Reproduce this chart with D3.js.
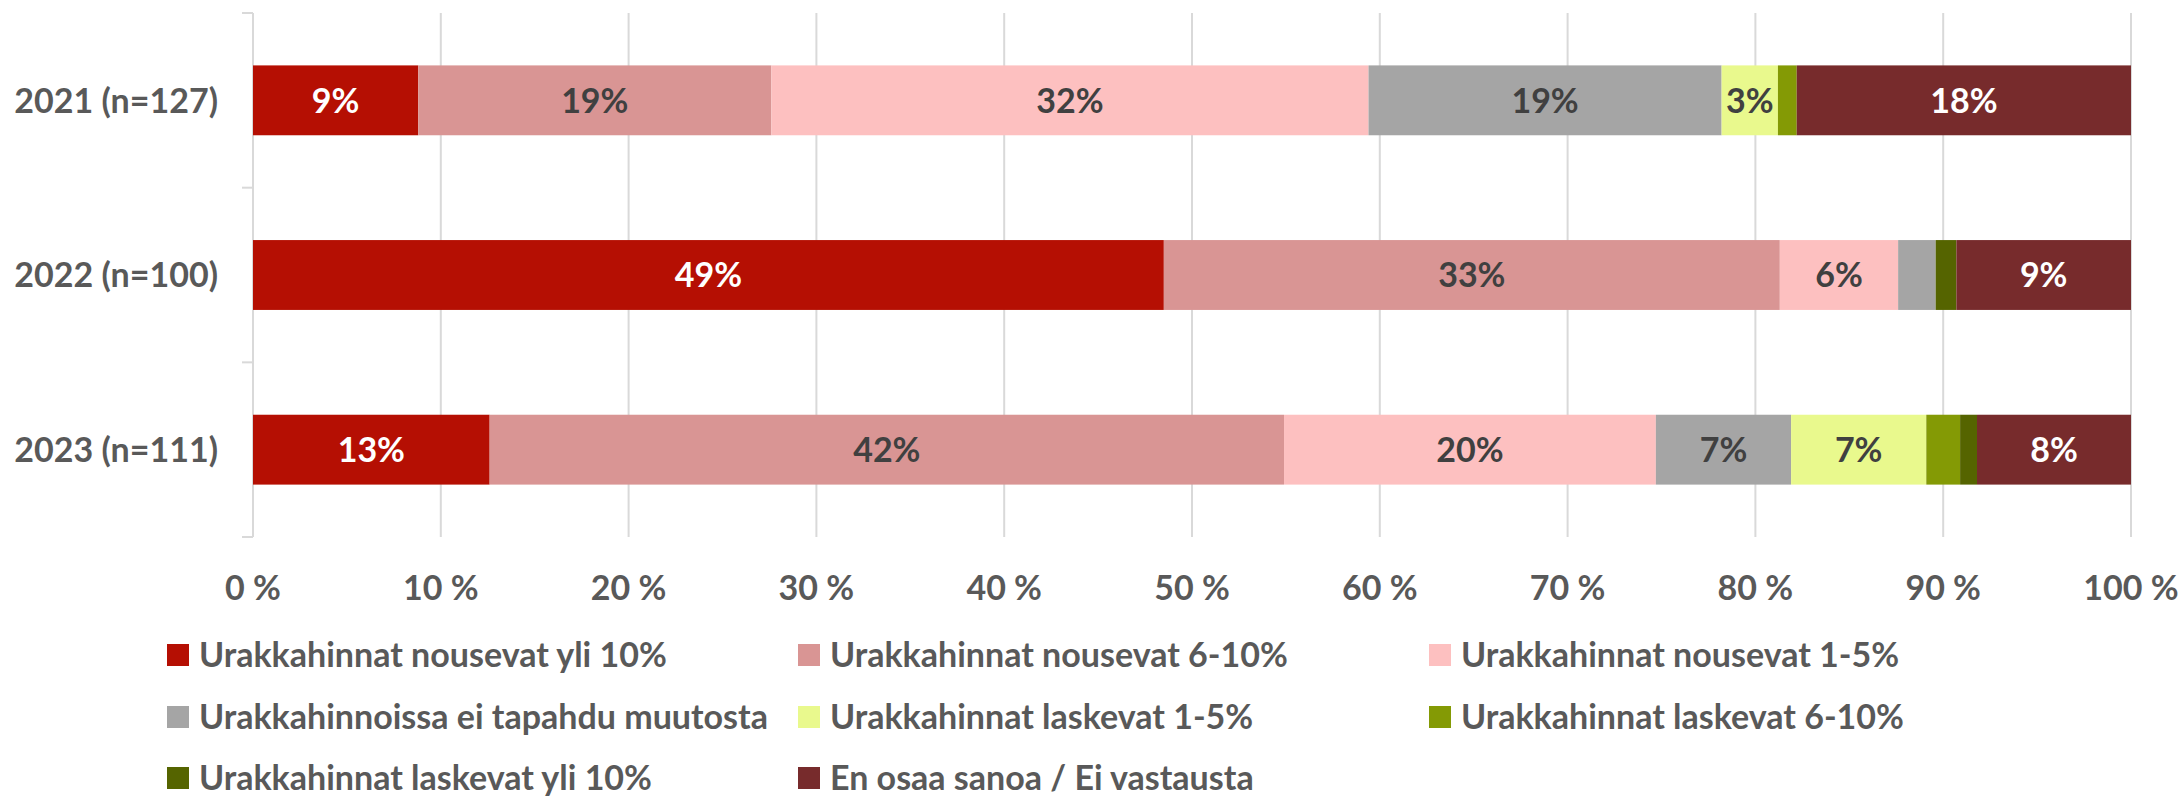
<!DOCTYPE html>
<html>
<head>
<meta charset="utf-8">
<script src="https://cdn.jsdelivr.net/npm/d3@7"></script>
<style>
  body { margin: 0; background: #fff; }
  svg text { font-family: Lato, "Open Sans", sans-serif; font-weight: bold; }
</style>
</head>
<body>
<div id="chart"></div>
<script>
const years = ['2021 (n=127)', '2022 (n=100)', '2023 (n=111)'];
const series = [
  'Urakkahinnat nousevat yli 10%',
  'Urakkahinnat nousevat 6-10%',
  'Urakkahinnat nousevat 1-5%',
  'Urakkahinnoissa ei tapahdu muutosta',
  'Urakkahinnat laskevat 1-5%',
  'Urakkahinnat laskevat 6-10%',
  'Urakkahinnat laskevat yli 10%',
  'En osaa sanoa / Ei vastausta'
];
// one row per year, values in %, same order as series
const values2021 = [8.8, 18.8, 31.8, 18.8, 3.0, 1.0, 0, 17.8];
const values2022 = [48.5, 32.8, 6.3, 2.0, 0, 0, 1.1, 9.3];
const values2023 = [12.6, 42.3, 19.8, 7.2, 7.2, 1.8, 0.9, 8.2];
const xTicks = [0, 10, 20, 30, 40, 50, 60, 70, 80, 90, 100];

const colors = ['#b50f03', '#d99594', '#fdc0c0', '#a5a5a5', '#e9f98d', '#849a05', '#556400', '#772b2c'];
const whiteLabel = [true, false, false, false, false, false, false, true];

const width = 2183, height = 796;
const margin = {top: 13, left: 253, right: 52};
const plotBottom = 537;

const rows = [values2021, values2022, values2023].map((vals, i) => {
  const row = {year: years[i]};
  series.forEach((s, j) => row[s] = vals[j]);
  return row;
});

const stacked = d3.stack().keys(series)(rows);

const svg = d3.select('#chart')
  .append('svg')
    .attr('width', width)
    .attr('height', height);

const x = d3.scaleLinear()
  .domain([0, 100])
  .range([margin.left, width - margin.right]);

const y = d3.scaleBand()
  .domain(years)
  .range([margin.top, plotBottom])
  .paddingInner(0.6)
  .paddingOuter(0.3);

// gridlines
svg.append('g')
  .selectAll('line')
  .data(xTicks)
  .join('line')
    .attr('x1', d => x(d))
    .attr('x2', d => x(d))
    .attr('y1', margin.top)
    .attr('y2', plotBottom)
    .attr('stroke', '#d9d9d9')
    .attr('stroke-width', 2);

// category axis with outer ticks
const yAxisTicks = [margin.top, margin.top + y.step(), margin.top + 2 * y.step(), plotBottom];
svg.append('g')
  .selectAll('line')
  .data(yAxisTicks)
  .join('line')
    .attr('x1', margin.left - 11)
    .attr('x2', margin.left)
    .attr('y1', d => d)
    .attr('y2', d => d)
    .attr('stroke', '#d9d9d9')
    .attr('stroke-width', 2);

svg.append('g')
  .selectAll('text')
  .data(years)
  .join('text')
    .attr('x', 218)
    .attr('y', d => y(d) + y.bandwidth() / 2)
    .attr('dy', '0.36em')
    .attr('text-anchor', 'end')
    .attr('fill', '#595959')
    .attr('font-size', 34)
    .text(d => d);

// x axis labels
svg.append('g')
  .selectAll('text')
  .data(xTicks)
  .join('text')
    .attr('x', d => x(d))
    .attr('y', 588)
    .attr('dy', '0.36em')
    .attr('text-anchor', 'middle')
    .attr('fill', '#595959')
    .attr('font-size', 34)
    .text(d => d + ' %');

// bars
const layers = svg.append('g')
  .selectAll('g')
  .data(stacked)
  .join('g')
    .attr('fill', (d, i) => colors[i]);

layers.selectAll('rect')
  .data(d => d)
  .join('rect')
    .attr('x', d => x(d[0]))
    .attr('width', d => x(d[1]) - x(d[0]))
    .attr('y', d => y(d.data.year))
    .attr('height', y.bandwidth());

// value labels
svg.append('g')
  .selectAll('g')
  .data(stacked)
  .join('g')
    .attr('fill', (d, i) => whiteLabel[i] ? '#ffffff' : '#404040')
  .selectAll('text')
  .data(d => d.filter(p => p[1] - p[0] >= 2.5))
  .join('text')
    .attr('x', d => (x(d[0]) + x(d[1])) / 2)
    .attr('y', d => y(d.data.year) + y.bandwidth() / 2)
    .attr('dy', '0.36em')
    .attr('text-anchor', 'middle')
    .attr('font-size', 34)
    .text(d => Math.round(d[1] - d[0]) + '%');

// legend
const legendX = [167, 798, 1429];
const legendY = [655, 717, 778];

const legend = svg.append('g')
  .selectAll('g')
  .data(series)
  .join('g')
    .attr('transform', (d, i) => `translate(${legendX[i % 3]}, ${legendY[Math.floor(i / 3)]})`);

legend.append('rect')
  .attr('x', 0)
  .attr('y', -11)
  .attr('width', 22)
  .attr('height', 22)
  .attr('fill', (d, i) => colors[i]);

legend.append('text')
  .attr('x', 32)
  .attr('dy', '0.36em')
  .attr('fill', '#595959')
  .attr('font-size', 34)
  .text(d => d);
</script>
</body>
</html>
